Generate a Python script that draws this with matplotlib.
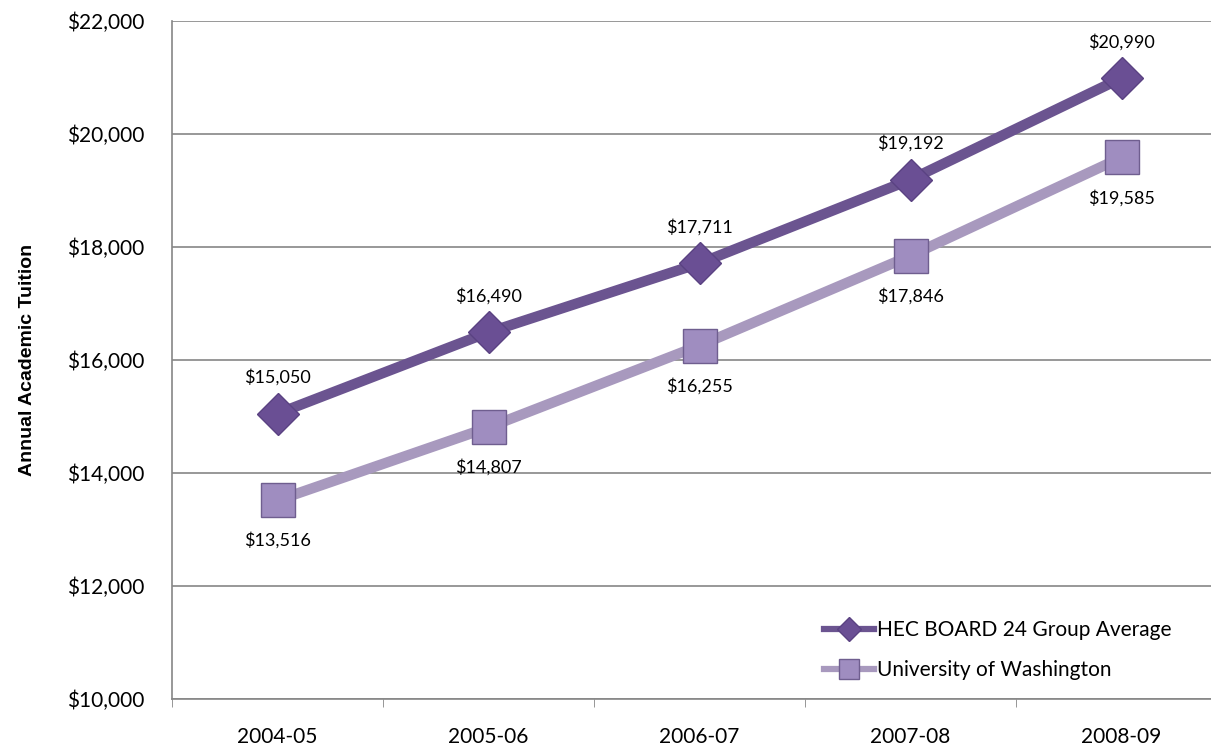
import matplotlib
matplotlib.use("Agg")
import matplotlib.pyplot as plt
from matplotlib.ticker import FuncFormatter

years = ["2004-05", "2005-06", "2006-07", "2007-08", "2008-09"]
hec = [15050, 16490, 17711, 19192, 20990]
uw = [13516, 14807, 16255, 17846, 19585]

plt.rcParams['font.family'] = ['Lato', 'DejaVu Sans']

fig = plt.figure(figsize=(12.11, 7.5), dpi=100)
ax = fig.add_axes([172/1211, 51/750, (1227-172)/1211, 678/750])

x = list(range(len(years)))
ax.plot(x, hec, color="#6B5490", lw=7.5, marker="D", ms=21,
        mfc="#6A4F94", mec="#5A4282", mew=1, label="HEC BOARD 24 Group Average", zorder=4)
ax.plot(x, uw, color="#A899BE", lw=7.5, marker="s", ms=24,
        mfc="#9F8DC0", mec="#6F5E8F", mew=1, label="University of Washington", zorder=3)

for i in x:
    ax.annotate("${:,}".format(hec[i]), (i, hec[i]), xytext=(0, 26), textcoords="offset points",
                ha="center", va="center", fontsize=13)
    ax.annotate("${:,}".format(uw[i]), (i, uw[i]), xytext=(0, -29), textcoords="offset points",
                ha="center", va="center", fontsize=13)

ax.set_xlim(-0.5, 4.5)
ax.set_ylim(10000, 22000)
ax.set_yticks(range(10000, 22001, 2000))
ax.yaxis.set_major_formatter(FuncFormatter(lambda v, p: "${:,.0f}".format(v)))
ax.set_xticks(x)
ax.set_xticklabels(years)
ax.set_xticks([i - 0.5 for i in range(6)], minor=True)
ax.tick_params(axis="x", which="major", length=0, pad=20, labelsize=15)
ax.tick_params(axis="x", which="minor", length=6, color="#868686")
ax.tick_params(axis="y", length=0, pad=20, labelsize=15)
ax.grid(axis="y", color="#868686", lw=1.2)
ax.set_axisbelow(True)
for s in ["top", "right"]:
    ax.spines[s].set_visible(False)
for s in ["left", "bottom"]:
    ax.spines[s].set_color("#868686")
    ax.spines[s].set_linewidth(1.2)

ax.set_ylabel("Annual Academic Tuition", family=["Liberation Sans", "DejaVu Sans"],
              fontweight="bold", fontsize=14, labelpad=22)

leg = ax.legend(loc="lower left", bbox_to_anchor=(0.60, 0.0), frameon=False, fontsize=15,
                handlelength=2.4, labelspacing=0.95, handletextpad=0.15, markerscale=0.6)
for line in leg.get_lines():
    line.set_linewidth(4.5)

fig.savefig("out.png", dpi=100)
